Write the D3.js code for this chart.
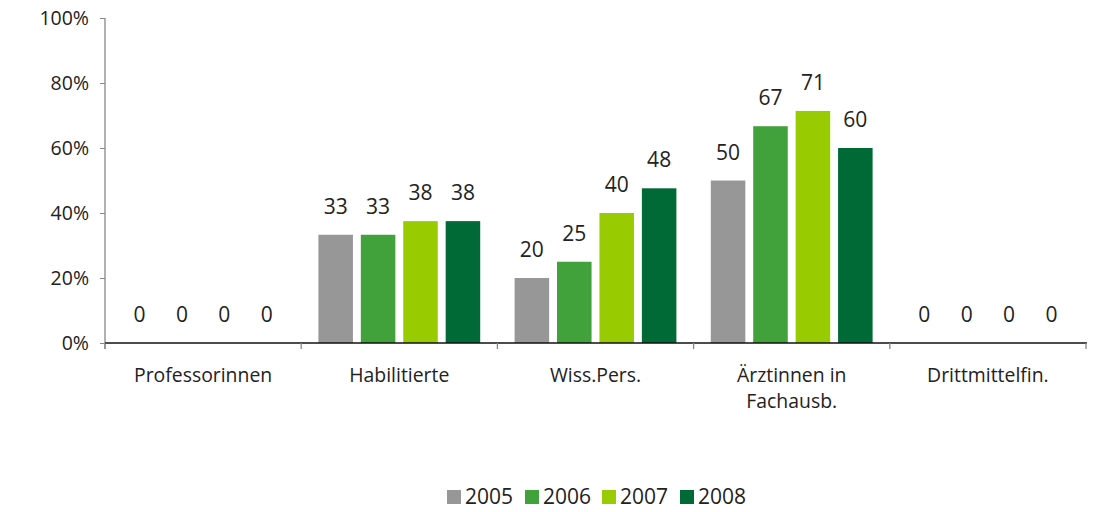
<!DOCTYPE html>
<html>
<head>
<meta charset="utf-8">
<script src="https://cdn.jsdelivr.net/npm/d3@7"></script>
<style>
  body { margin: 0; background: #fff; }
  svg { display: block; font-family: "Open Sans", sans-serif; }
</style>
</head>
<body>
<div id="chart"></div>
<script>
var categories = [["Professorinnen"], ["Habilitierte"], ["Wiss.Pers."], ["Ärztinnen in", "Fachausb."], ["Drittmittelfin."]];
var years = ["2005", "2006", "2007", "2008"];
var values2005 = [0, 33.3, 20, 50, 0];
var values2006 = [0, 33.3, 25, 66.7, 0];
var values2007 = [0, 37.5, 40, 71.4, 0];
var values2008 = [0, 37.5, 47.6, 60, 0];
var yTicks = [0, 20, 40, 60, 80, 100];
var colors = ["#979797", "#41a13a", "#99cc00", "#006a36"];

var series = [values2005, values2006, values2007, values2008];

var width = 1103, height = 512;
var plotLeft = 105, plotRight = 1086, plotTop = 18, plotBottom = 343;

var svg = d3.select('#chart').append('svg')
    .attr('width', width).attr('height', height);

var x = d3.scaleBand()
    .domain(d3.range(categories.length))
    .range([plotLeft, plotRight])
    .padding(0);

var bandPad = 17.2;
var xInner = d3.scaleBand()
    .domain(d3.range(years.length))
    .range([bandPad, x.bandwidth() - bandPad])
    .paddingInner(0.186)
    .paddingOuter(0);

var y = d3.scaleLinear().domain([0, 100]).range([plotBottom, plotTop]);

// y axis
var yAxis = svg.append('g').attr('transform', 'translate(' + plotLeft + ',0)')
    .call(d3.axisLeft(y).tickValues(yTicks).tickSize(5).tickPadding(11)
        .tickFormat(function (d) { return d + '%'; }));
yAxis.attr('font-family', null).attr('font-size', null);
yAxis.select('.domain').attr('stroke', '#888').attr('stroke-width', 1.3)
    .attr('d', 'M0,' + plotTop + 'V' + (plotBottom + 6));
yAxis.selectAll('.tick line').attr('stroke', '#888');
yAxis.selectAll('.tick text')
    .style('font-size', '19.5px').attr('fill', '#222');

// bars
var groups = svg.append('g').selectAll('g.cat')
    .data(categories.map(function (c, i) { return i; }))
    .enter().append('g')
    .attr('class', 'cat')
    .attr('transform', function (d) { return 'translate(' + x(d) + ',0)'; });

var fmt = d3.format('.0f');
groups.selectAll('rect')
    .data(function (c) { return series.map(function (s, j) { return {j: j, v: s[c]}; }); })
    .enter().append('rect')
    .attr('x', function (d) { return xInner(d.j); })
    .attr('width', xInner.bandwidth())
    .attr('y', function (d) { return y(d.v); })
    .attr('height', function (d) { return plotBottom - y(d.v); })
    .attr('fill', function (d) { return colors[d.j]; });

groups.selectAll('text.val')
    .data(function (c) { return series.map(function (s, j) { return {j: j, v: s[c]}; }); })
    .enter().append('text')
    .attr('class', 'val')
    .attr('x', function (d) { return xInner(d.j) + xInner.bandwidth() / 2; })
    .attr('y', function (d) { return y(d.v) - 21; })
    .attr('text-anchor', 'middle')
    .style('font-size', '21px')
    .attr('fill', '#222')
    .text(function (d) { return fmt(d.v); });

// x axis
var xAxis = svg.append('g');
xAxis.append('line')
    .attr('x1', plotLeft).attr('x2', plotRight + 1)
    .attr('y1', plotBottom).attr('y2', plotBottom)
    .attr('stroke', '#111').attr('stroke-width', 1.3);
xAxis.selectAll('line.tick')
    .data(d3.range(categories.length + 1))
    .enter().append('line')
    .attr('class', 'tick')
    .attr('x1', function (d) { return plotLeft + d * x.step(); })
    .attr('x2', function (d) { return plotLeft + d * x.step(); })
    .attr('y1', plotBottom).attr('y2', plotBottom + 6)
    .attr('stroke', '#888').attr('stroke-width', 1.3);

xAxis.selectAll('text.cat')
    .data(categories)
    .enter().append('text')
    .attr('class', 'cat')
    .attr('text-anchor', 'middle')
    .style('font-size', '19.4px')
    .attr('fill', '#222')
    .each(function (lines, i) {
        var t = d3.select(this);
        lines.forEach(function (line, k) {
            t.append('tspan')
                .attr('x', x(i) + x.bandwidth() / 2)
                .attr('y', 382 + k * 26)
                .text(line);
        });
    });

// legend
var legendX = [447, 525, 602, 680];
var legend = svg.append('g').selectAll('g.leg')
    .data(years)
    .enter().append('g')
    .attr('class', 'leg')
    .attr('transform', function (d, i) { return 'translate(' + legendX[i] + ',490)'; });
legend.append('rect')
    .attr('width', 14).attr('height', 14)
    .attr('fill', function (d, i) { return colors[i]; });
legend.append('text')
    .attr('x', 18).attr('y', 14)
    .style('font-size', '21px')
    .attr('fill', '#222')
    .text(function (d) { return d; });
</script>
</body>
</html>
